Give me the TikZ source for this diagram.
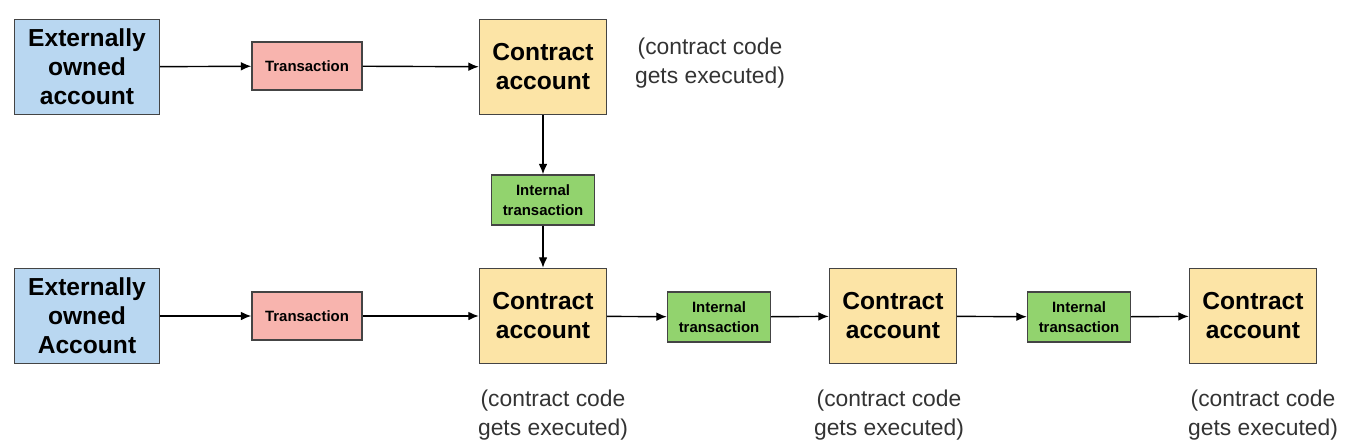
\documentclass[tikz,border=0pt]{standalone}
\usepackage{fontspec}
\setmainfont{Liberation Sans}
\usetikzlibrary{arrows.meta}
\definecolor{eoa}{HTML}{B9D7F1}
\definecolor{tx}{HTML}{F8B4AE}
\definecolor{ca}{HTML}{FCE4A6}
\definecolor{itx}{HTML}{92D36E}
\definecolor{bd}{HTML}{444444}
\begin{document}
\begin{tikzpicture}[x=0.02cm,y=-0.02cm,
  box/.style={draw=bd,line width=0.8pt,align=center,inner sep=0pt,font=\bfseries},
  big/.style={box,minimum width=2.54cm,minimum height=1.9cm,font=\fontsize{14}{16.5}\selectfont\bfseries},
  eoabox/.style={big,fill=eoa,minimum width=2.9cm},
  cabox/.style={big,fill=ca},
  txbox/.style={box,fill=tx,minimum width=2.2cm,minimum height=0.96cm,font=\fontsize{8.5}{10}\selectfont\bfseries},
  itxbox/.style={box,fill=itx,minimum width=2.06cm,minimum height=1cm,font=\fontsize{8.5}{11}\selectfont\bfseries},
  note/.style={align=center,font=\fontsize{13}{16.5}\selectfont,text=black!80},
  arr/.style={-{Latex[length=6pt,width=5pt]},line width=0.8pt,draw=black}]
\useasboundingbox (0,0) rectangle (1352,447);
\node[eoabox] (e1) at (87,67) {Externally\\owned\\account};
\node[txbox] (t1) at (307,66) {Transaction};
\node[cabox] (c1) at (543,67) {Contract\\account};
\node[note] (n1) at (710,63) {(contract code\\gets executed)};
\node[itxbox] (i1) at (543,200) {Internal\\transaction};
\node[eoabox] (e2) at (87,316) {Externally\\owned\\Account};
\node[txbox] (t2) at (307,316) {Transaction};
\node[cabox] (c2) at (543,316) {Contract\\account};
\node[itxbox] (i2) at (719,317) {Internal\\transaction};
\node[cabox] (c3) at (893,316) {Contract\\account};
\node[itxbox] (i3) at (1079,317) {Internal\\transaction};
\node[cabox] (c4) at (1253,316) {Contract\\account};
\node[note] (n2) at (553,415) {(contract code\\gets executed)};
\node[note] (n3) at (889,415) {(contract code\\gets executed)};
\node[note] (n4) at (1263,415) {(contract code\\gets executed)};
\draw[arr] (e1) -- (t1);
\draw[arr] (t1) -- (c1);
\draw[arr] (c1) -- (i1);
\draw[arr] (i1) -- (c2);
\draw[arr] (e2) -- (t2);
\draw[arr] (t2) -- (c2);
\draw[arr] (c2) -- (i2);
\draw[arr] (i2) -- (c3);
\draw[arr] (c3) -- (i3);
\draw[arr] (i3) -- (c4);
\end{tikzpicture}
\end{document}
